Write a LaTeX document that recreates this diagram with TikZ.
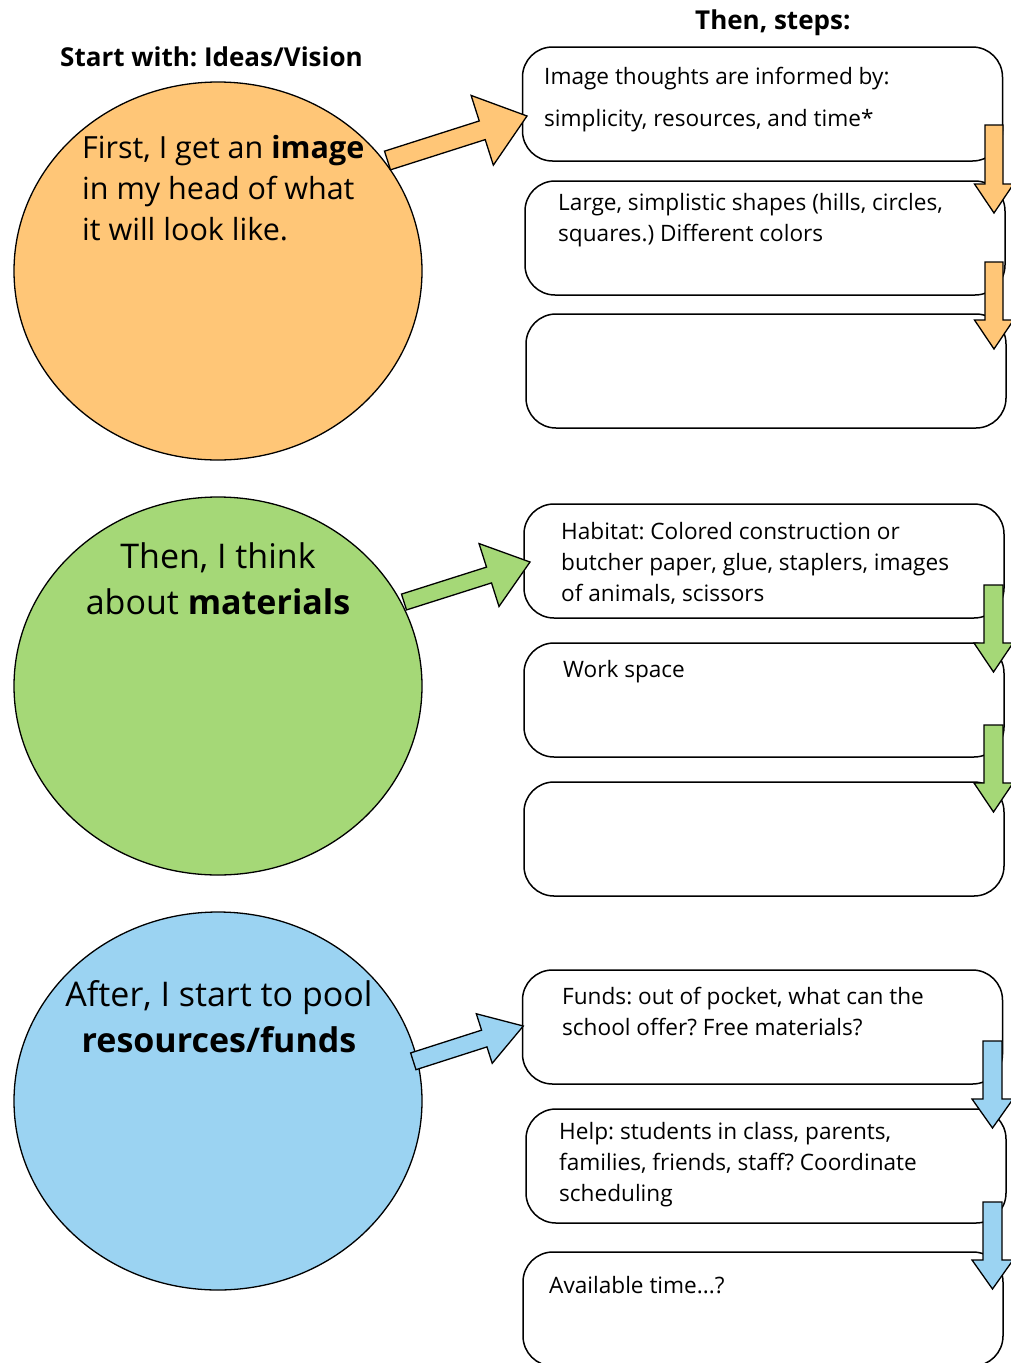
\documentclass[tikz,border=0pt]{standalone}
\usepackage{fontspec}
\setmainfont{Open Sans}
\usetikzlibrary{calc,shapes.geometric}
\frenchspacing

\definecolor{ideaorange}{HTML}{FFC677}
\definecolor{matgreen}{HTML}{A5D877}
\definecolor{fundblue}{HTML}{9BD3F2}

% block arrow: tail, tip, shaft half width, head half width, head length, fill
\newcommand\blockarrow[6]{%
  \path coordinate (hb) at ($(#2)!#5!(#1)$);
  \draw[blockarrow, fill=#6]
    ($(#1)!#3!90:(#2)$) -- ($(hb)!#3!90:(#2)$) -- ($(hb)!#4!90:(#2)$)
    -- (#2) -- ($(hb)!#4!-90:(#2)$) -- ($(hb)!#3!-90:(#2)$)
    -- ($(#1)!#3!-90:(#2)$) -- cycle;
}

\begin{document}
\begin{tikzpicture}[x=1pt,y=-1pt,
  bubble/.style={ellipse, draw=black, line width=1.3pt, inner sep=0pt,
    minimum width=408pt, minimum height=378pt},
  stepbox/.style={rectangle, rounded corners=30pt, draw=black, line width=1.5pt,
    fill=white, inner sep=0pt, minimum width=480pt, minimum height=114pt},
  blockarrow/.style={draw=black, line width=1.3pt, line join=miter},
  head/.style={font=\fontsize{26}{30}\selectfont\bfseries, inner sep=0pt, anchor=base west},
  bigtxt/.style={font=\fontsize{30.5}{41}\selectfont, inner sep=0pt, align=left, anchor=base west},
  bigctr/.style={font=\fontsize{34}{46}\selectfont, inner sep=0pt, align=center, anchor=base},
  boxtxt/.style={font=\fontsize{22.6}{31}\selectfont, inner sep=0pt, align=left, anchor=base west},
]
\useasboundingbox (0,0) rectangle (1010,1363);
\fill[white] (0,0) rectangle (1010,1363);

% headings
\node[head] (hleft) at (60,66) {Start with: Ideas/Vision};
\node[head] (hright) at (695,29) {Then, steps:};

% the three bubbles
\node[bubble, fill=ideaorange] (c1) at (218,271) {};
\node[bubble, fill=matgreen] (c2) at (218,686) {};
\node[bubble, fill=fundblue] (c3) at (218,1101) {};

% bubble texts (anchored at the baseline of their last line)
\node[bigtxt] (t1) at (82,240) {First, I get an \textbf{image}\\in my head of what\\it will look like.};
\node[bigctr] (t2) at (218,614) {Then, I think\\about \textbf{materials}};
\node[bigctr] (t3) at (219,1052) {After, I start to pool\\\textbf{resources/funds}};

% step boxes
\node[stepbox] (b1) at (762.5,104) {};
\node[stepbox] (b2) at (765,238) {};
\node[stepbox] (b3) at (766,371) {};
\node[stepbox] (b4) at (764,561) {};
\node[stepbox] (b5) at (764,700) {};
\node[stepbox] (b6) at (764,839) {};
\node[stepbox] (b7) at (762.5,1027) {};
\node[stepbox] (b8) at (766,1166) {};
\node[stepbox] (b9) at (763,1309) {};

% box texts (anchored at the baseline of their last line)
\node[boxtxt] (s1a) at (544,84) {Image thoughts are informed by:};
\node[boxtxt] (s1b) at (544,126) {simplicity, resources, and time*};
\node[boxtxt] (s2) at (558,241) {Large, simplistic shapes (hills, circles,\\squares.) Different colors};
\node[boxtxt] (s4) at (561,601) {Habitat: Colored construction or\\butcher paper, glue, staplers, images\\of animals, scissors};
\node[boxtxt] (s5) at (563,677) {Work space};
\node[boxtxt] (s7) at (562,1035) {Funds: out of pocket, what can the\\school offer? Free materials?};
\node[boxtxt] (s8) at (559,1201) {Help: students in class, parents,\\families, friends, staff? Coordinate\\scheduling};
\node[boxtxt] (s9) at (549,1293) {Available time...?};

% arrow ends
\coordinate (o-tail) at (387.5,160.5);
\coordinate (o-tip) at (527,116);
\coordinate (g-tail) at (404,602);
\coordinate (g-tip) at (530,562);
\coordinate (u-tail) at (413.3,1061.3);
\coordinate (u-tip) at (523.3,1026);

\coordinate (od1-top) at (994,125);   \coordinate (od1-tip) at (994,213);
\coordinate (od2-top) at (994,262);   \coordinate (od2-tip) at (994,349);
\coordinate (gd1-top) at (993.5,585); \coordinate (gd1-tip) at (993.5,672);
\coordinate (gd2-top) at (993.5,725); \coordinate (gd2-tip) at (993.5,812);
\coordinate (ud1-top) at (992.5,1041);\coordinate (ud1-tip) at (992.5,1128);
\coordinate (ud2-top) at (992.5,1202);\coordinate (ud2-tip) at (992.5,1289);

% arrows from bubbles to the first step
\blockarrow{o-tail}{o-tip}{9.8pt}{36.6pt}{47pt}{ideaorange}
\blockarrow{g-tail}{g-tip}{8.3pt}{33pt}{43pt}{matgreen}
\blockarrow{u-tail}{u-tip}{8.8pt}{26pt}{41pt}{fundblue}

% arrows between steps
\blockarrow{od1-top}{od1-tip}{9pt}{19.5pt}{29pt}{ideaorange}
\blockarrow{od2-top}{od2-tip}{9pt}{19.5pt}{29pt}{ideaorange}
\blockarrow{gd1-top}{gd1-tip}{9.5pt}{19.5pt}{29pt}{matgreen}
\blockarrow{gd2-top}{gd2-tip}{9.5pt}{19.5pt}{29pt}{matgreen}
\blockarrow{ud1-top}{ud1-tip}{9.5pt}{20.5pt}{29pt}{fundblue}
\blockarrow{ud2-top}{ud2-tip}{9.5pt}{20.5pt}{29pt}{fundblue}
\end{tikzpicture}
\end{document}
